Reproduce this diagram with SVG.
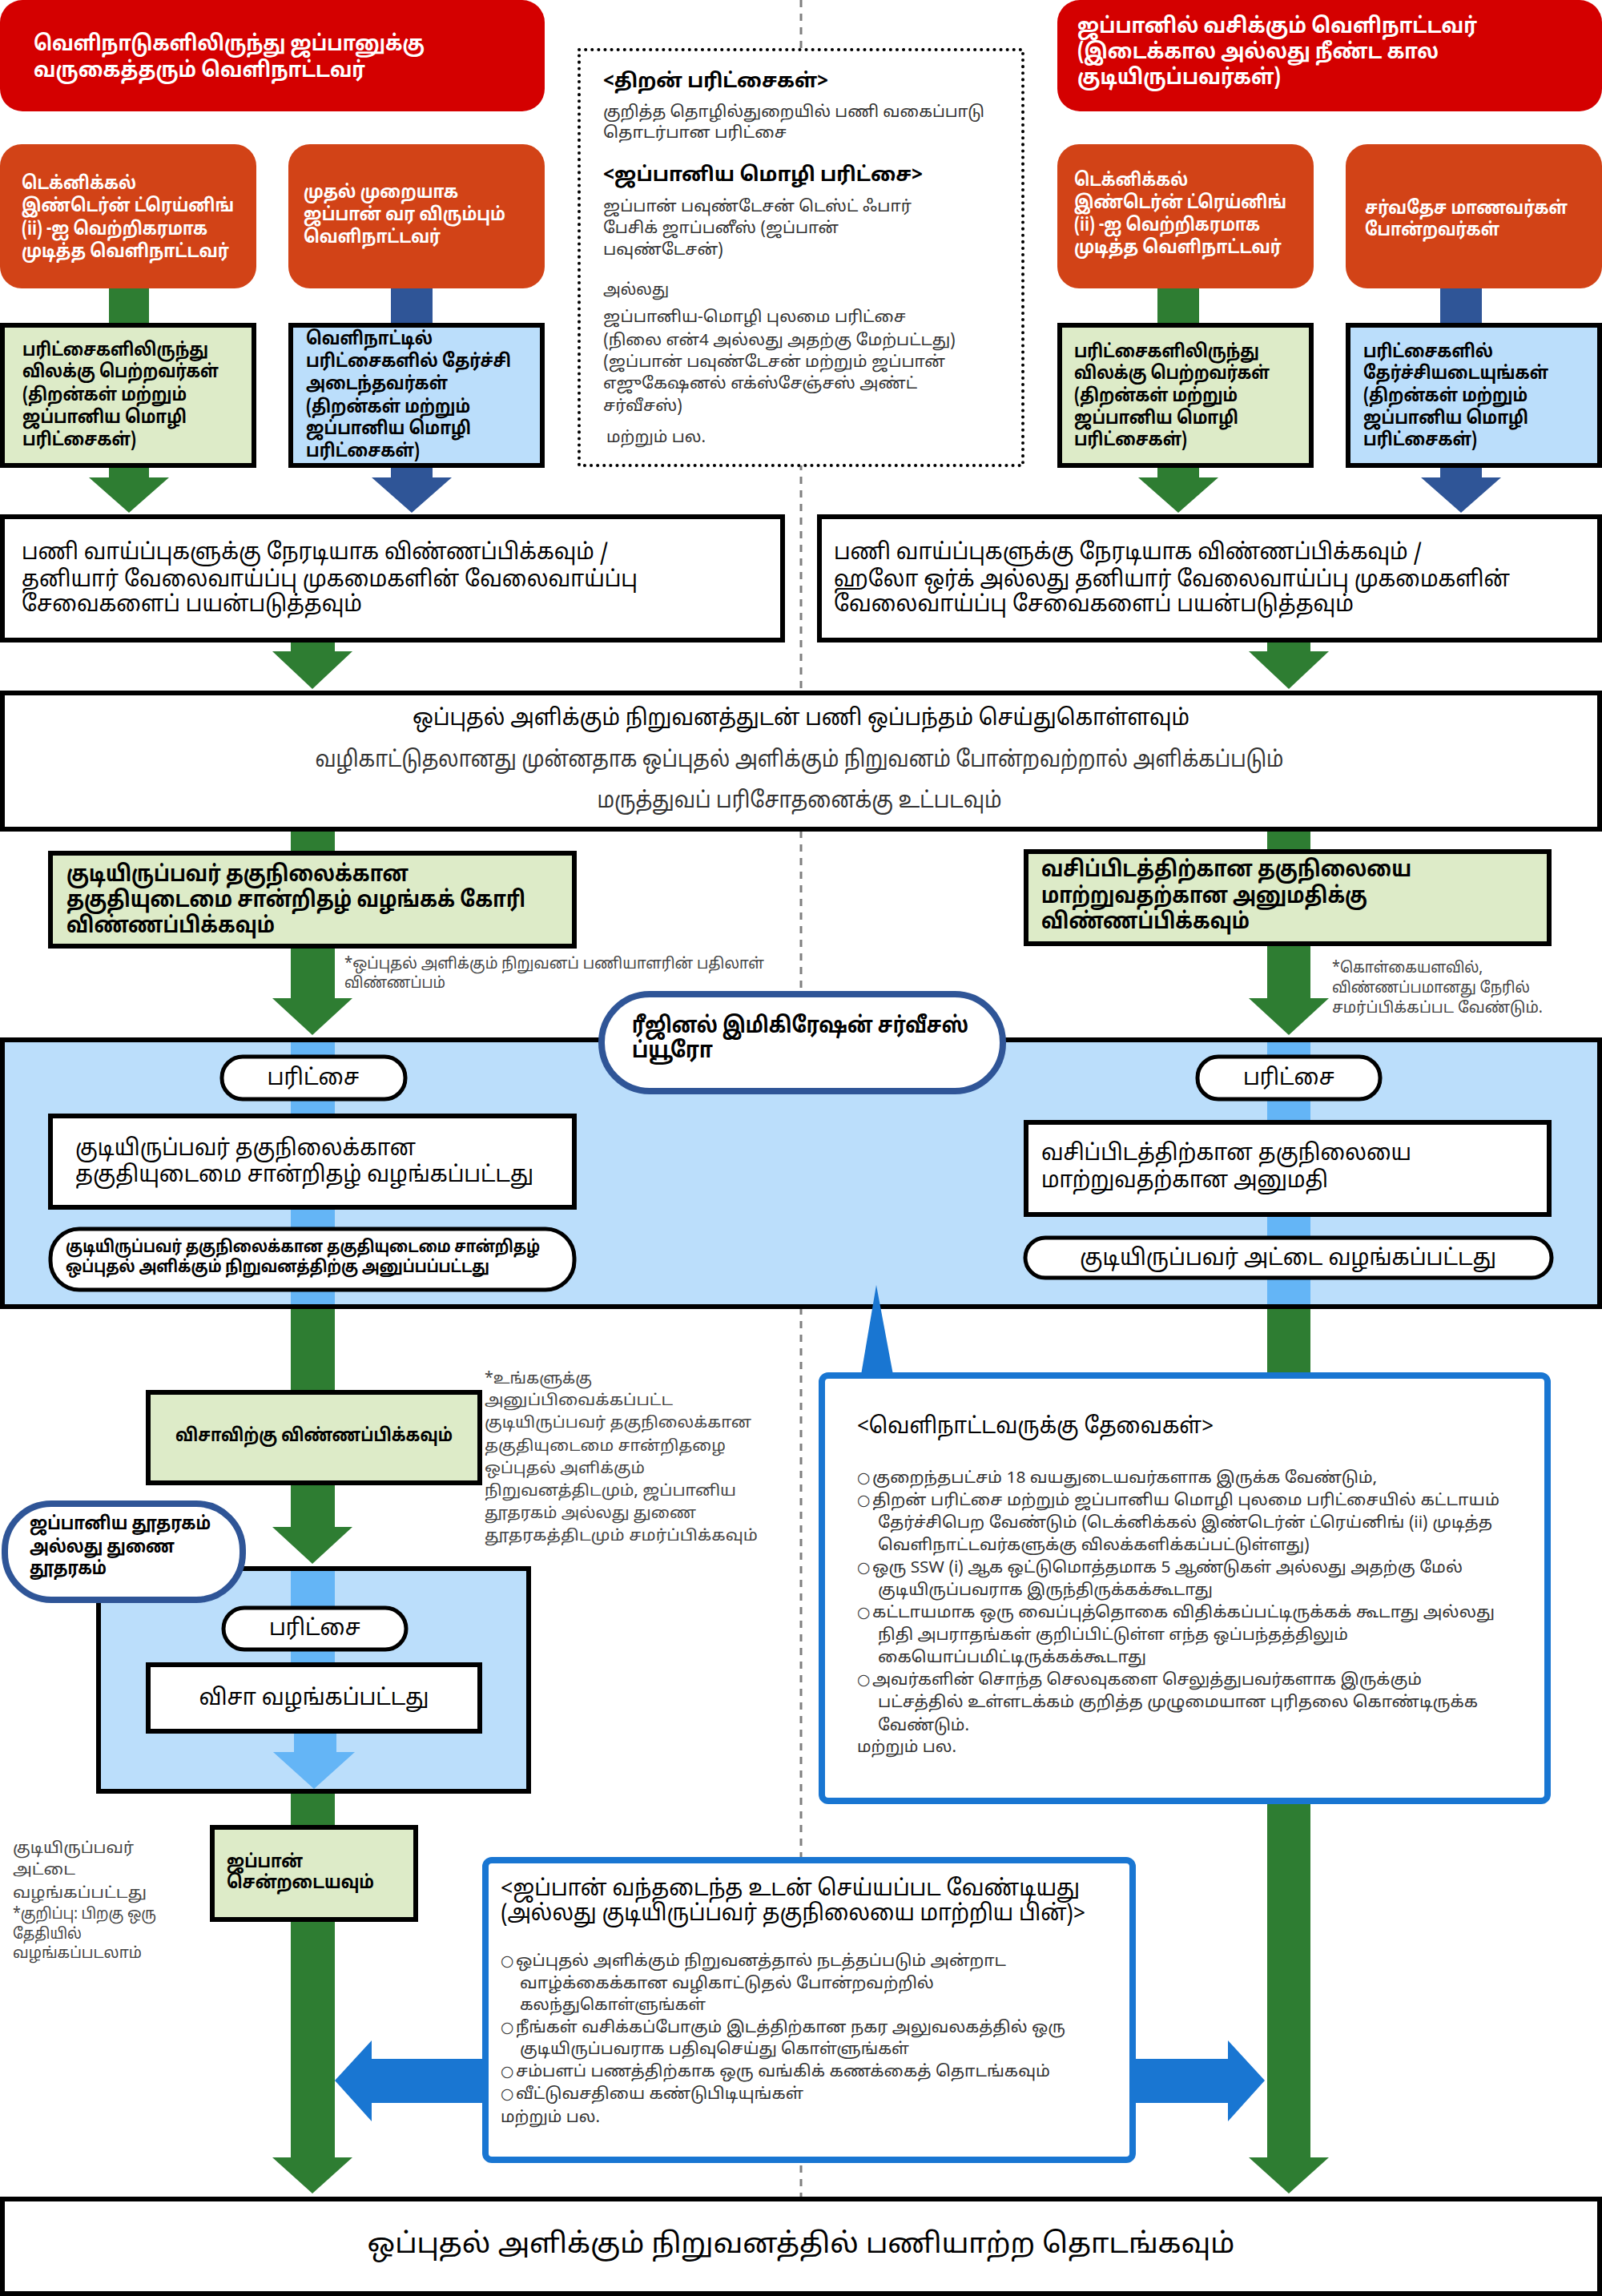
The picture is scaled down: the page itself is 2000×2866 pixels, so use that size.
<svg xmlns="http://www.w3.org/2000/svg" width="2000" height="2866" viewBox="0 0 2000 2866">
<defs>
<style>
text{font-family:"Noto Sans Tamil","Lohit Tamil","Noto Sans",sans-serif;}
.hd{fill:#fff;font-weight:bold;font-size:27px}
.or{fill:#fff;font-weight:bold;font-size:23px}
.bx{fill:#000;font-weight:bold;font-size:23px}
.md{fill:#000;font-size:28px}
.mb{fill:#000;font-size:28px;font-weight:bold}
.sm{fill:#333;font-size:20px}
.nt{fill:#444;font-size:19px}
.dh{fill:#000;font-weight:bold;font-size:25px}
.bul{font-family:"DejaVu Sans",sans-serif;fill:#333;font-size:19px}
.red{fill:#D40000}
.org{fill:#D24317}
.lg{fill:#DDEBC8;stroke:#000;stroke-width:6}
.lb{fill:#BBDEFB;stroke:#000;stroke-width:6}
.wb{fill:#fff;stroke:#000;stroke-width:6}
.pill{fill:#fff;stroke:#000;stroke-width:5}
.ring{fill:#fff;stroke:#2F5597;stroke-width:8}
.call{fill:#fff;stroke:#1976D2;stroke-width:8}
.g{fill:#2E7D32}
.b{fill:#2F5597}
.lbs{fill:#64B5F6}
.bl{fill:#1976D2}
.c{text-anchor:middle}
</style>
</defs>
<rect x="0" y="0" width="2000" height="2866" fill="#fff"/>
<g id="centerline"><line x1="1000" y1="0" x2="1000" y2="2742" stroke="#808080" stroke-width="3" stroke-dasharray="9 8"/></g>

<g id="immigration-region"><rect x="3" y="1298" width="1994" height="333" class="lb"/></g>
<g id="embassy-region"><rect x="123" y="1958" width="537" height="278" class="lb"/></g>

<g id="connectors">
<polygon class="g" points="136,360 186,360 186,596 211,596 161,640 111,596 136,596"/>
<polygon class="b" points="488,360 540,360 540,596 564,596 514,640 464,596 488,596"/>
<polygon class="g" points="1445,360 1497,360 1497,596 1521,596 1471,640 1421,596 1445,596"/>
<polygon class="b" points="1798,360 1850,360 1850,596 1874,596 1824,640 1774,596 1798,596"/>
<polygon class="g" points="363,801 418,801 418,813 440,813 390,860 340,813 363,813"/>
<polygon class="g" points="1582,801 1636,801 1636,813 1659,813 1609,860 1559,813 1582,813"/>
<rect class="g" x="363" y="1037" width="55" height="26"/>
<rect class="g" x="1582" y="1037" width="54" height="26"/>
<polygon class="g" points="363,1182 418,1182 418,1246 440,1246 390,1292 340,1246 363,1246"/>
<polygon class="g" points="1582,1179 1636,1179 1636,1246 1659,1246 1609,1292 1559,1246 1582,1246"/>
<rect class="lbs" x="363" y="1301" width="55" height="327"/>
<rect class="lbs" x="1582" y="1301" width="54" height="327"/>
<rect class="g" x="363" y="1634" width="55" height="102"/>
<polygon class="g" points="363,1853 418,1853 418,1906 440,1906 390,1952 340,1906 363,1906"/>
<rect class="lbs" x="363" y="1961" width="55" height="115"/>
<polygon class="lbs" points="367,2163 420,2163 420,2187 443,2187 392,2233 341,2187 367,2187"/>
<rect class="g" x="363" y="2239" width="55" height="40"/>
<polygon class="g" points="363,2398 418,2398 418,2693 440,2693 390,2738 340,2693 363,2693"/>
<polygon class="g" points="1582,1634 1636,1634 1636,2693 1659,2693 1609,2738 1559,2693 1582,2693"/>
<polygon class="bl" points="603,2570 464,2570 464,2547 418,2597 464,2648 464,2625 603,2625"/>
<polygon class="bl" points="1416,2570 1533,2570 1533,2547 1579,2597 1533,2648 1533,2625 1416,2625"/>
<polygon class="bl" points="1075,1716 1094,1604 1115,1716"/>
</g>

<g id="header-left">
<rect x="0" y="0" width="680" height="139" rx="28" class="red"/>
<text class="hd" x="42" y="63" textLength="488" lengthAdjust="spacingAndGlyphs">வெளிநாடுகளிலிருந்து ஜப்பானுக்கு</text>
<text class="hd" x="42" y="96" textLength="414" lengthAdjust="spacingAndGlyphs">வருகைத்தரும் வெளிநாட்டவர்</text>
</g>
<g id="header-right">
<rect x="1320" y="0" width="680" height="139" rx="28" class="red"/>
<text class="hd" x="1345" y="41" textLength="499" lengthAdjust="spacingAndGlyphs">ஜப்பானில் வசிக்கும் வெளிநாட்டவர்</text>
<text class="hd" x="1345" y="73" textLength="451" lengthAdjust="spacingAndGlyphs">(இடைக்கால அல்லது நீண்ட கால</text>
<text class="hd" x="1345" y="105" textLength="254" lengthAdjust="spacingAndGlyphs">குடியிருப்பவர்கள்)</text>
</g>

<g id="ti-left">
<rect x="0" y="180" width="320" height="180" rx="27" class="org"/>
<text class="or" x="27" y="236" textLength="143" lengthAdjust="spacingAndGlyphs">டெக்னிக்கல்</text>
<text class="or" x="27" y="264" textLength="265" lengthAdjust="spacingAndGlyphs">இண்டெர்ன் ட்ரெய்னிங்</text>
<text class="or" x="27" y="293" textLength="232" lengthAdjust="spacingAndGlyphs">(ii) -ஐ வெற்றிகரமாக</text>
<text class="or" x="27" y="321" textLength="259" lengthAdjust="spacingAndGlyphs">முடித்த வெளிநாட்டவர்</text>
</g>
<g id="first-time">
<rect x="360" y="180" width="320" height="180" rx="27" class="org"/>
<text class="or" x="379" y="247" textLength="193" lengthAdjust="spacingAndGlyphs">முதல் முறையாக</text>
<text class="or" x="379" y="275" textLength="252" lengthAdjust="spacingAndGlyphs">ஜப்பான் வர விரும்பும்</text>
<text class="or" x="379" y="303" textLength="171" lengthAdjust="spacingAndGlyphs">வெளிநாட்டவர்</text>
</g>
<g id="ti-right">
<rect x="1320" y="180" width="320" height="180" rx="27" class="org"/>
<text class="or" x="1341" y="232" textLength="142" lengthAdjust="spacingAndGlyphs">டெக்னிக்கல்</text>
<text class="or" x="1341" y="260" textLength="265" lengthAdjust="spacingAndGlyphs">இண்டெர்ன் ட்ரெய்னிங்</text>
<text class="or" x="1341" y="288" textLength="232" lengthAdjust="spacingAndGlyphs">(ii) -ஐ வெற்றிகரமாக</text>
<text class="or" x="1341" y="316" textLength="259" lengthAdjust="spacingAndGlyphs">முடித்த வெளிநாட்டவர்</text>
</g>
<g id="students">
<rect x="1680" y="180" width="320" height="180" rx="27" class="org"/>
<text class="or" x="1704" y="267" textLength="253" lengthAdjust="spacingAndGlyphs">சர்வதேச மாணவர்கள்</text>
<text class="or" x="1704" y="294" textLength="168" lengthAdjust="spacingAndGlyphs">போன்றவர்கள்</text>
</g>

<g id="exempt-left">
<rect x="3" y="406" width="314" height="175" class="lg"/>
<text class="bx" x="28" y="444" textLength="232" lengthAdjust="spacingAndGlyphs">பரிட்சைகளிலிருந்து</text>
<text class="bx" x="28" y="471" textLength="245" lengthAdjust="spacingAndGlyphs">விலக்கு பெற்றவர்கள்</text>
<text class="bx" x="28" y="500" textLength="205" lengthAdjust="spacingAndGlyphs">(திறன்கள் மற்றும்</text>
<text class="bx" x="28" y="528" textLength="205" lengthAdjust="spacingAndGlyphs">ஜப்பானிய மொழி</text>
<text class="bx" x="28" y="556" textLength="142" lengthAdjust="spacingAndGlyphs">பரிட்சைகள்)</text>
</g>
<g id="passed-abroad">
<rect x="363" y="406" width="314" height="175" class="lb"/>
<text class="bx" x="382" y="430" textLength="158" lengthAdjust="spacingAndGlyphs">வெளிநாட்டில்</text>
<text class="bx" x="382" y="458" textLength="256" lengthAdjust="spacingAndGlyphs">பரிட்சைகளில் தேர்ச்சி</text>
<text class="bx" x="382" y="486" textLength="177" lengthAdjust="spacingAndGlyphs">அடைந்தவர்கள்</text>
<text class="bx" x="382" y="515" textLength="205" lengthAdjust="spacingAndGlyphs">(திறன்கள் மற்றும்</text>
<text class="bx" x="382" y="542" textLength="206" lengthAdjust="spacingAndGlyphs">ஜப்பானிய மொழி</text>
<text class="bx" x="382" y="570" textLength="142" lengthAdjust="spacingAndGlyphs">பரிட்சைகள்)</text>
</g>
<g id="exempt-right">
<rect x="1323" y="406" width="314" height="175" class="lg"/>
<text class="bx" x="1341" y="446" textLength="231" lengthAdjust="spacingAndGlyphs">பரிட்சைகளிலிருந்து</text>
<text class="bx" x="1341" y="473" textLength="244" lengthAdjust="spacingAndGlyphs">விலக்கு பெற்றவர்கள்</text>
<text class="bx" x="1341" y="501" textLength="204" lengthAdjust="spacingAndGlyphs">(திறன்கள் மற்றும்</text>
<text class="bx" x="1341" y="529" textLength="205" lengthAdjust="spacingAndGlyphs">ஜப்பானிய மொழி</text>
<text class="bx" x="1341" y="556" textLength="141" lengthAdjust="spacingAndGlyphs">பரிட்சைகள்)</text>
</g>
<g id="pass-right">
<rect x="1683" y="406" width="314" height="175" class="lb"/>
<text class="bx" x="1702" y="446" textLength="162" lengthAdjust="spacingAndGlyphs">பரிட்சைகளில்</text>
<text class="bx" x="1702" y="473" textLength="231" lengthAdjust="spacingAndGlyphs">தேர்ச்சியடையுங்கள்</text>
<text class="bx" x="1702" y="501" textLength="205" lengthAdjust="spacingAndGlyphs">(திறன்கள் மற்றும்</text>
<text class="bx" x="1702" y="529" textLength="206" lengthAdjust="spacingAndGlyphs">ஜப்பானிய மொழி</text>
<text class="bx" x="1702" y="556" textLength="142" lengthAdjust="spacingAndGlyphs">பரிட்சைகள்)</text>
</g>

<g id="tests-info">
<rect x="723" y="62" width="554" height="519" fill="#fff" stroke="#000" stroke-width="4" stroke-dasharray="0.1 8" stroke-linecap="round"/>
<text class="dh" x="753" y="109" textLength="281" lengthAdjust="spacingAndGlyphs">&lt;திறன் பரிட்சைகள்&gt;</text>
<text class="sm" x="753" y="146" textLength="476" lengthAdjust="spacingAndGlyphs">குறித்த தொழில்துறையில் பணி வகைப்பாடு</text>
<text class="sm" x="753" y="172" textLength="229" lengthAdjust="spacingAndGlyphs">தொடர்பான பரிட்சை</text>
<text class="dh" x="753" y="226" textLength="399" lengthAdjust="spacingAndGlyphs">&lt;ஜப்பானிய மொழி பரிட்சை&gt;</text>
<text class="sm" x="753" y="264" textLength="385" lengthAdjust="spacingAndGlyphs">ஜப்பான் பவுண்டேசன் டெஸ்ட் ஃபார்</text>
<text class="sm" x="753" y="291" textLength="294" lengthAdjust="spacingAndGlyphs">பேசிக் ஜாப்பனீஸ் (ஜப்பான்</text>
<text class="sm" x="753" y="318" textLength="150" lengthAdjust="spacingAndGlyphs">பவுண்டேசன்)</text>
<text class="sm" x="753" y="368" textLength="82" lengthAdjust="spacingAndGlyphs">அல்லது</text>
<text class="sm" x="753" y="402" textLength="378" lengthAdjust="spacingAndGlyphs">ஜப்பானிய-மொழி புலமை பரிட்சை</text>
<text class="sm" x="753" y="431" textLength="440" lengthAdjust="spacingAndGlyphs">(நிலை என்4 அல்லது அதற்கு மேற்பட்டது)</text>
<text class="sm" x="753" y="458" textLength="427" lengthAdjust="spacingAndGlyphs">(ஜப்பான் பவுண்டேசன் மற்றும் ஜப்பான்</text>
<text class="sm" x="753" y="485" textLength="392" lengthAdjust="spacingAndGlyphs">எஜுகேஷனல் எக்ஸ்சேஞ்சஸ் அண்ட்</text>
<text class="sm" x="753" y="513" textLength="99" lengthAdjust="spacingAndGlyphs">சர்வீசஸ்)</text>
<text class="sm" x="757" y="552" textLength="124" lengthAdjust="spacingAndGlyphs">மற்றும் பல.</text>
</g>

<g id="apply-left">
<rect x="3" y="645" width="974" height="154" class="wb"/>
<text class="md" x="27" y="698" textLength="732" lengthAdjust="spacingAndGlyphs">பணி வாய்ப்புகளுக்கு நேரடியாக விண்ணப்பிக்கவும் /</text>
<text class="md" x="27" y="732" textLength="769" lengthAdjust="spacingAndGlyphs">தனியார் வேலைவாய்ப்பு முகமைகளின் வேலைவாய்ப்பு</text>
<text class="md" x="27" y="763" textLength="425" lengthAdjust="spacingAndGlyphs">சேவைகளைப் பயன்படுத்தவும்</text>
</g>
<g id="apply-right">
<rect x="1023" y="645" width="974" height="154" class="wb"/>
<text class="md" x="1041" y="698" textLength="734" lengthAdjust="spacingAndGlyphs">பணி வாய்ப்புகளுக்கு நேரடியாக விண்ணப்பிக்கவும் /</text>
<text class="md" x="1041" y="732" textLength="844" lengthAdjust="spacingAndGlyphs">ஹலோ ஒர்க் அல்லது தனியார் வேலைவாய்ப்பு முகமைகளின்</text>
<text class="md" x="1041" y="763" textLength="649" lengthAdjust="spacingAndGlyphs">வேலைவாய்ப்பு சேவைகளைப் பயன்படுத்தவும்</text>
</g>

<g id="contract">
<rect x="3" y="865" width="1994" height="170" class="wb"/>
<text class="md c" x="1000" y="905" textLength="970" lengthAdjust="spacingAndGlyphs">ஒப்புதல் அளிக்கும் நிறுவனத்துடன் பணி ஒப்பந்தம் செய்துகொள்ளவும்</text>
<text class="md c" x="998" y="957" style="fill:#333" textLength="1209" lengthAdjust="spacingAndGlyphs">வழிகாட்டுதலானது முன்னதாக ஒப்புதல் அளிக்கும் நிறுவனம் போன்றவற்றால் அளிக்கப்படும்</text>
<text class="md c" x="998" y="1008" style="fill:#333" textLength="505" lengthAdjust="spacingAndGlyphs">மருத்துவப் பரிசோதனைக்கு உட்படவும்</text>
</g>

<g id="coe-apply">
<rect x="63" y="1065" width="654" height="116" class="lg"/>
<text class="mb" x="83" y="1100" textLength="427" lengthAdjust="spacingAndGlyphs">குடியிருப்பவர் தகுநிலைக்கான</text>
<text class="mb" x="83" y="1132" textLength="573" lengthAdjust="spacingAndGlyphs">தகுதியுடைமை சான்றிதழ் வழங்கக் கோரி</text>
<text class="mb" x="83" y="1164" textLength="260" lengthAdjust="spacingAndGlyphs">விண்ணப்பிக்கவும்</text>
</g>
<g id="coe-note">
<text class="nt" x="430" y="1209" textLength="524" lengthAdjust="spacingAndGlyphs">*ஒப்புதல் அளிக்கும் நிறுவனப் பணியாளரின் பதிலாள்</text>
<text class="nt" x="430" y="1233" textLength="126" lengthAdjust="spacingAndGlyphs">விண்ணப்பம்</text>
</g>

<g id="change-apply">
<rect x="1281" y="1063" width="653" height="115" class="lg"/>
<text class="mb" x="1300" y="1094" textLength="462" lengthAdjust="spacingAndGlyphs">வசிப்பிடத்திற்கான தகுநிலையை</text>
<text class="mb" x="1300" y="1127" textLength="407" lengthAdjust="spacingAndGlyphs">மாற்றுவதற்கான அனுமதிக்கு</text>
<text class="mb" x="1300" y="1159" textLength="260" lengthAdjust="spacingAndGlyphs">விண்ணப்பிக்கவும்</text>
</g>
<g id="change-note">
<text class="nt" x="1663" y="1214" textLength="188" lengthAdjust="spacingAndGlyphs">*கொள்கையளவில்,</text>
<text class="nt" x="1663" y="1239" textLength="247" lengthAdjust="spacingAndGlyphs">விண்ணப்பமானது நேரில்</text>
<text class="nt" x="1663" y="1264" textLength="263" lengthAdjust="spacingAndGlyphs">சமர்ப்பிக்கப்பட வேண்டும்.</text>
</g>

<g id="bureau">
<rect x="751" y="1241" width="501" height="121" rx="60" class="ring"/>
<text class="mb" x="789" y="1289" textLength="420" lengthAdjust="spacingAndGlyphs">ரீஜினல் இமிகிரேஷன் சர்வீசஸ்</text>
<text class="mb" x="789" y="1320" textLength="101" lengthAdjust="spacingAndGlyphs">ப்யூரோ</text>
</g>

<g id="exam-left">
<rect x="277" y="1319" width="229" height="53" rx="26" class="pill"/>
<text class="md c" x="391" y="1354" textLength="115" lengthAdjust="spacingAndGlyphs">பரிட்சை</text>
</g>
<g id="coe-issued">
<rect x="63" y="1393" width="654" height="114" class="wb"/>
<text class="md" x="94" y="1442" textLength="425" lengthAdjust="spacingAndGlyphs">குடியிருப்பவர் தகுநிலைக்கான</text>
<text class="md" x="94" y="1475" textLength="572" lengthAdjust="spacingAndGlyphs">தகுதியுடைமை சான்றிதழ் வழங்கப்பட்டது</text>
</g>
<g id="coe-sent">
<rect x="63" y="1534" width="654" height="76" rx="36" class="pill"/>
<text class="bx" x="82" y="1563" style="font-size:21px" textLength="592" lengthAdjust="spacingAndGlyphs">குடியிருப்பவர் தகுநிலைக்கான தகுதியுடைமை சான்றிதழ்</text>
<text class="bx" x="82" y="1588" style="font-size:21px" textLength="529" lengthAdjust="spacingAndGlyphs">ஒப்புதல் அளிக்கும் நிறுவனத்திற்கு அனுப்பப்பட்டது</text>
</g>

<g id="exam-right">
<rect x="1495" y="1319" width="228" height="53" rx="26" class="pill"/>
<text class="md c" x="1609" y="1354" textLength="114" lengthAdjust="spacingAndGlyphs">பரிட்சை</text>
</g>
<g id="change-permit">
<rect x="1281" y="1401" width="653" height="115" class="wb"/>
<text class="md" x="1300" y="1448" textLength="462" lengthAdjust="spacingAndGlyphs">வசிப்பிடத்திற்கான தகுநிலையை</text>
<text class="md" x="1300" y="1482" textLength="358" lengthAdjust="spacingAndGlyphs">மாற்றுவதற்கான அனுமதி</text>
</g>
<g id="card-issued">
<rect x="1280" y="1545" width="657" height="50" rx="25" class="pill"/>
<text class="md c" x="1608" y="1579" textLength="520" lengthAdjust="spacingAndGlyphs">குடியிருப்பவர் அட்டை வழங்கப்பட்டது</text>
</g>

<g id="requirements">
<rect x="1026" y="1717" width="906" height="531" rx="8" class="call"/>
<text class="md" x="1070" y="1789" textLength="445" lengthAdjust="spacingAndGlyphs">&lt;வெளிநாட்டவருக்கு தேவைகள்&gt;</text>
<text class="bul" x="1070" y="1851">○</text>
<text class="sm" x="1089" y="1851" textLength="630" lengthAdjust="spacingAndGlyphs">குறைந்தபட்சம் 18 வயதுடையவர்களாக இருக்க வேண்டும்,</text>
<text class="bul" x="1070" y="1879">○</text>
<text class="sm" x="1089" y="1879" textLength="783" lengthAdjust="spacingAndGlyphs">திறன் பரிட்சை மற்றும் ஜப்பானிய மொழி புலமை பரிட்சையில் கட்டாயம்</text>
<text class="sm" x="1096" y="1907" textLength="767" lengthAdjust="spacingAndGlyphs">தேர்ச்சிபெற வேண்டும் (டெக்னிக்கல் இண்டெர்ன் ட்ரெய்னிங் (ii) முடித்த</text>
<text class="sm" x="1096" y="1935" textLength="539" lengthAdjust="spacingAndGlyphs">வெளிநாட்டவர்களுக்கு விலக்களிக்கப்பட்டுள்ளது)</text>
<text class="bul" x="1070" y="1963">○</text>
<text class="sm" x="1089" y="1963" textLength="737" lengthAdjust="spacingAndGlyphs">ஒரு SSW (i) ஆக ஒட்டுமொத்தமாக 5 ஆண்டுகள் அல்லது அதற்கு மேல்</text>
<text class="sm" x="1096" y="1991" textLength="418" lengthAdjust="spacingAndGlyphs">குடியிருப்பவராக இருந்திருக்கக்கூடாது</text>
<text class="bul" x="1070" y="2019">○</text>
<text class="sm" x="1089" y="2019" textLength="777" lengthAdjust="spacingAndGlyphs">கட்டாயமாக ஒரு வைப்புத்தொகை விதிக்கப்பட்டிருக்கக் கூடாது அல்லது</text>
<text class="sm" x="1096" y="2047" textLength="587" lengthAdjust="spacingAndGlyphs">நிதி அபராதங்கள் குறிப்பிட்டுள்ள எந்த ஒப்பந்தத்திலும்</text>
<text class="sm" x="1096" y="2075" textLength="335" lengthAdjust="spacingAndGlyphs">கையொப்பமிட்டிருக்கக்கூடாது</text>
<text class="bul" x="1070" y="2103">○</text>
<text class="sm" x="1089" y="2103" textLength="686" lengthAdjust="spacingAndGlyphs">அவர்களின் சொந்த செலவுகளை செலுத்துபவர்களாக இருக்கும்</text>
<text class="sm" x="1096" y="2131" textLength="749" lengthAdjust="spacingAndGlyphs">பட்சத்தில் உள்ளடக்கம் குறித்த முழுமையான புரிதலை கொண்டிருக்க</text>
<text class="sm" x="1096" y="2160" textLength="114" lengthAdjust="spacingAndGlyphs">வேண்டும்.</text>
<text class="sm" x="1070" y="2187" textLength="124" lengthAdjust="spacingAndGlyphs">மற்றும் பல.</text>
</g>

<g id="visa-apply">
<rect x="185" y="1738" width="414" height="113" class="lg"/>
<text class="bx c" x="392" y="1799" textLength="346" lengthAdjust="spacingAndGlyphs">விசாவிற்கு விண்ணப்பிக்கவும்</text>
</g>
<g id="visa-note">
<text class="nt" x="605" y="1727" textLength="134" lengthAdjust="spacingAndGlyphs">*உங்களுக்கு</text>
<text class="nt" x="605" y="1754" textLength="235" lengthAdjust="spacingAndGlyphs">அனுப்பிவைக்கப்பட்ட</text>
<text class="nt" x="605" y="1782" textLength="333" lengthAdjust="spacingAndGlyphs">குடியிருப்பவர் தகுநிலைக்கான</text>
<text class="nt" x="605" y="1811" textLength="301" lengthAdjust="spacingAndGlyphs">தகுதியுடைமை சான்றிதழை</text>
<text class="nt" x="605" y="1839" textLength="200" lengthAdjust="spacingAndGlyphs">ஒப்புதல் அளிக்கும்</text>
<text class="nt" x="605" y="1867" textLength="314" lengthAdjust="spacingAndGlyphs">நிறுவனத்திடமும், ஜப்பானிய</text>
<text class="nt" x="605" y="1895" textLength="264" lengthAdjust="spacingAndGlyphs">தூதரகம் அல்லது துணை</text>
<text class="nt" x="605" y="1923" textLength="341" lengthAdjust="spacingAndGlyphs">தூதரகத்திடமும் சமர்ப்பிக்கவும்</text>
</g>

<g id="embassy">
<rect x="6" y="1877" width="297" height="120" rx="58" class="ring"/>
<text class="bx" x="37" y="1909" textLength="226" lengthAdjust="spacingAndGlyphs">ஜப்பானிய தூதரகம்</text>
<text class="bx" x="37" y="1938" textLength="181" lengthAdjust="spacingAndGlyphs">அல்லது துணை</text>
<text class="bx" x="37" y="1965" textLength="96" lengthAdjust="spacingAndGlyphs">தூதரகம்</text>
</g>
<g id="exam-embassy">
<rect x="279" y="2007" width="228" height="52" rx="26" class="pill"/>
<text class="md c" x="393" y="2041" textLength="114" lengthAdjust="spacingAndGlyphs">பரிட்சை</text>
</g>
<g id="visa-issued">
<rect x="185" y="2078" width="414" height="83" class="wb"/>
<text class="md c" x="392" y="2128" textLength="287" lengthAdjust="spacingAndGlyphs">விசா வழங்கப்பட்டது</text>
</g>

<g id="arrive">
<rect x="265" y="2281" width="254" height="115" class="lg"/>
<text class="bx" x="283" y="2331" textLength="95" lengthAdjust="spacingAndGlyphs">ஜப்பான்</text>
<text class="bx" x="283" y="2357" textLength="184" lengthAdjust="spacingAndGlyphs">சென்றடையவும்</text>
</g>
<g id="card-note">
<text class="nt" x="16" y="2313" textLength="151" lengthAdjust="spacingAndGlyphs">குடியிருப்பவர்</text>
<text class="nt" x="16" y="2340" textLength="78" lengthAdjust="spacingAndGlyphs">அட்டை</text>
<text class="nt" x="16" y="2369" textLength="167" lengthAdjust="spacingAndGlyphs">வழங்கப்பட்டது</text>
<text class="nt" x="16" y="2395" textLength="179" lengthAdjust="spacingAndGlyphs">*குறிப்பு: பிறகு ஒரு</text>
<text class="nt" x="16" y="2420" textLength="86" lengthAdjust="spacingAndGlyphs">தேதியில்</text>
<text class="nt" x="16" y="2444" textLength="161" lengthAdjust="spacingAndGlyphs">வழங்கப்படலாம்</text>
</g>

<g id="after-arrival">
<rect x="606" y="2322" width="808" height="374" rx="8" class="call"/>
<text class="md" x="625" y="2366" textLength="723" lengthAdjust="spacingAndGlyphs">&lt;ஜப்பான் வந்தடைந்த உடன் செய்யப்பட வேண்டியது</text>
<text class="md" x="625" y="2397" textLength="730" lengthAdjust="spacingAndGlyphs">(அல்லது குடியிருப்பவர் தகுநிலையை மாற்றிய பின்)&gt;</text>
<text class="bul" x="625" y="2454">○</text>
<text class="sm" x="644" y="2454" textLength="612" lengthAdjust="spacingAndGlyphs">ஒப்புதல் அளிக்கும் நிறுவனத்தால் நடத்தப்படும் அன்றாட</text>
<text class="sm" x="649" y="2482" textLength="517" lengthAdjust="spacingAndGlyphs">வாழ்க்கைக்கான வழிகாட்டுதல் போன்றவற்றில்</text>
<text class="sm" x="649" y="2509" textLength="232" lengthAdjust="spacingAndGlyphs">கலந்துகொள்ளுங்கள்</text>
<text class="bul" x="625" y="2537">○</text>
<text class="sm" x="644" y="2537" textLength="686" lengthAdjust="spacingAndGlyphs">நீங்கள் வசிக்கப்போகும் இடத்திற்கான நகர அலுவலகத்தில் ஒரு</text>
<text class="sm" x="649" y="2564" textLength="486" lengthAdjust="spacingAndGlyphs">குடியிருப்பவராக பதிவுசெய்து கொள்ளுங்கள்</text>
<text class="bul" x="625" y="2592">○</text>
<text class="sm" x="644" y="2592" textLength="667" lengthAdjust="spacingAndGlyphs">சம்பளப் பணத்திற்காக ஒரு வங்கிக் கணக்கைத் தொடங்கவும்</text>
<text class="bul" x="625" y="2620">○</text>
<text class="sm" x="644" y="2620" textLength="359" lengthAdjust="spacingAndGlyphs">வீட்டுவசதியை கண்டுபிடியுங்கள்</text>
<text class="sm" x="625" y="2649" textLength="124" lengthAdjust="spacingAndGlyphs">மற்றும் பல.</text>
</g>

<g id="start-work">
<rect x="3" y="2745" width="1994" height="118" class="wb"/>
<text class="md c" x="1000" y="2812" style="font-size:35px" textLength="1083" lengthAdjust="spacingAndGlyphs">ஒப்புதல் அளிக்கும் நிறுவனத்தில் பணியாற்ற தொடங்கவும்</text>
</g>
</svg>
